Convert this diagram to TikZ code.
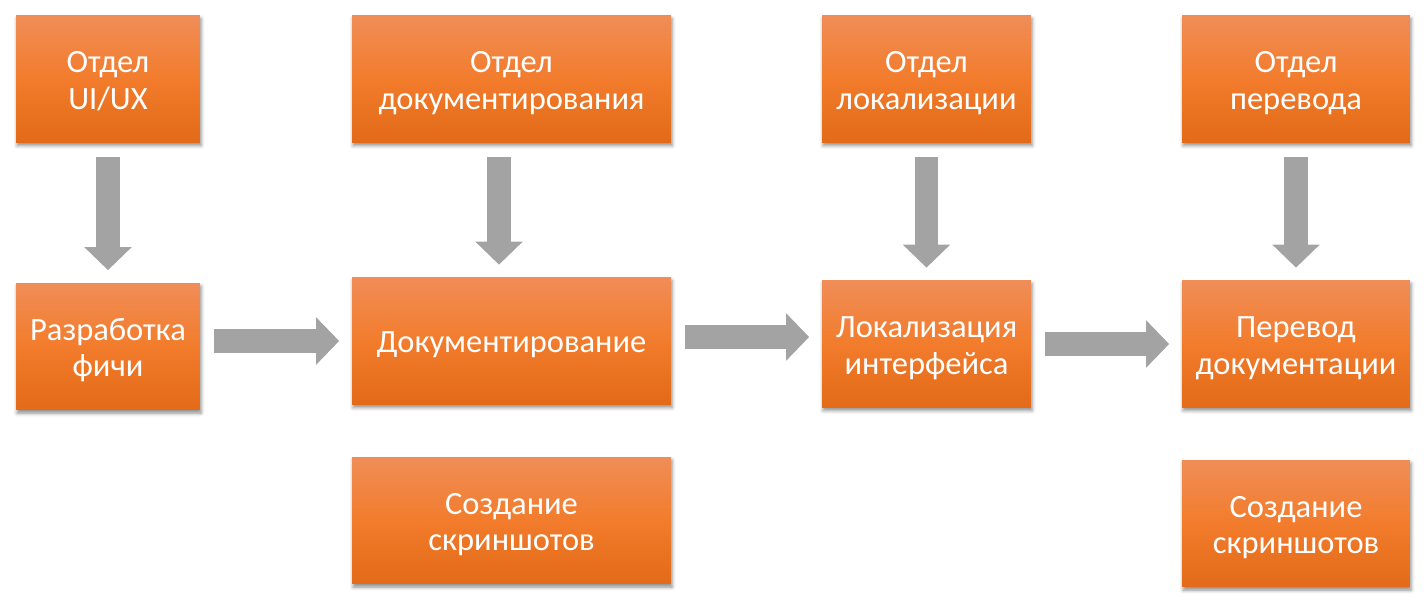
\documentclass[tikz,border=0pt]{standalone}
\usepackage{fontspec}
\setmainfont{Carlito}
\usepackage{tikz}
\usetikzlibrary{positioning,arrows.meta,shadows.blur}
\definecolor{boxtop}{HTML}{F08D57}
\definecolor{boxmid}{HTML}{F27C2C}
\definecolor{boxbot}{HTML}{E26A18}
\definecolor{arrowgray}{HTML}{A3A3A3}
\tikzset{
  stage/.style={rectangle, minimum height=2.54cm, inner sep=2pt, align=center, text=white,
    font=\fontsize{18.5}{21}\selectfont, top color=boxtop, bottom color=boxbot, middle color=boxmid,
    text height=34.6pt, text depth=0pt,
    blur shadow={shadow xshift=0.6pt, shadow yshift=-1.8pt, shadow blur radius=2pt, shadow opacity=45}},
  oneline/.style={text height=13.6pt, text depth=0pt},
  flowarrow/.style={draw=arrowgray, line width=0.47cm, -{Triangle[width=0.92cm,length=0.46cm]},
    shorten <=0.28cm, shorten >=0.25cm}
}

\begin{document}
\begin{tikzpicture}[x=0.02cm, y=-0.02cm]
  \useasboundingbox (0,0) rectangle (1426,605);

  % departments
  \node[stage, minimum width=3.68cm] (uiux) at (108,79) {Отдел\\UI/UX};
  \node[stage, minimum width=6.38cm] (docdep) at (511.5,79) {Отдел\\документирования};
  \node[stage, minimum width=4.18cm] (locdep) at (926.5,79) {Отдел\\локализации};
  \node[stage, minimum width=4.56cm] (trdep) at (1296,79) {Отдел\\перевода};

  % process
  \node[stage, minimum width=3.68cm] (feature) at (108,346.5) {Разработка\\фичи};
  \node[stage, oneline, minimum width=6.38cm] (doc) at (511.5,341) {Документирование};
  \node[stage, minimum width=4.18cm] (loc) at (926.5,344) {Локализация\\интерфейса};
  \node[stage, minimum width=4.56cm] (tr) at (1296,344) {Перевод\\документации};

  % screenshots
  \node[stage, minimum width=6.38cm] (shots) at (511.5,520.5) {Создание\\скриншотов};
  \node[stage, minimum width=4.56cm] (trshots) at (1296,523.5) {Создание\\скриншотов};

  \draw[flowarrow] (uiux) -- (feature);
  \draw[flowarrow] ([xshift=-0.25cm]docdep.south) -- ([xshift=-0.25cm]doc.north);
  \draw[flowarrow] (locdep) -- (loc);
  \draw[flowarrow] (trdep) -- (tr);

  \draw[flowarrow] (feature.east |- doc) -- (doc.west);
  \draw[flowarrow] ([yshift=0.08cm]doc.east) -- ([yshift=0.08cm]loc.west |- doc.east);
  \draw[flowarrow] (loc.east) -- (tr.west);
\end{tikzpicture}
\end{document}
